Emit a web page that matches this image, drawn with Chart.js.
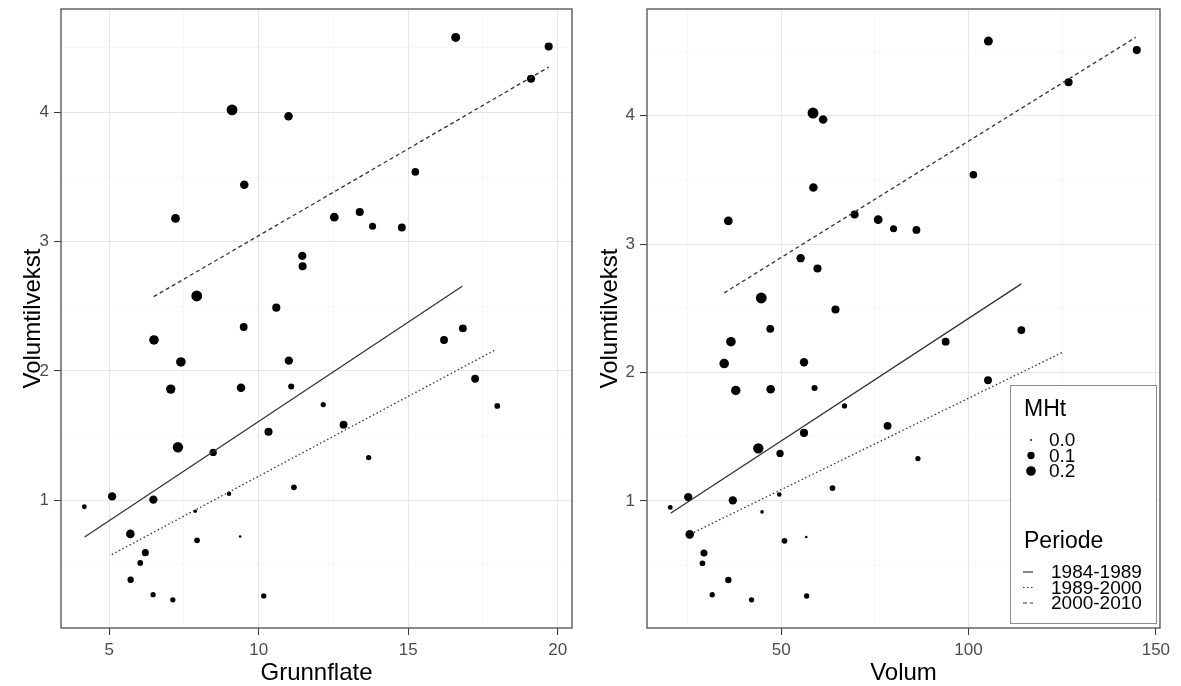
<!DOCTYPE html>
<html>
<head>
<meta charset="utf-8">
<script src="https://cdn.jsdelivr.net/npm/chart.js@4.4.1/dist/chart.umd.min.js"></script>
<style>
  html, body { margin: 0; padding: 0; background: #fff; }
  #wrap { position: relative; width: 1181px; height: 686px; }
  canvas { position: absolute; top: 0; }
</style>
</head>
<body>
<div id="wrap">
  <canvas id="left" width="595" height="686" style="left:0"></canvas>
  <canvas id="right" width="586" height="686" style="left:595px"></canvas>
</div>
<script>
// data, one entry per plot (same order in every array)
const grunnflate = [9.11, 11.0, 9.52, 7.22, 12.53, 11.46, 11.47, 7.93, 10.59, 16.59,
  19.7, 19.11, 15.24, 13.38, 13.81, 14.79, 9.5, 6.5, 7.4, 11.01,
  7.06, 9.41, 11.09, 12.16, 7.3, 8.48, 10.33, 5.1, 4.17, 6.48,
  9.01, 11.18, 7.88, 5.71, 7.94, 9.38, 6.21, 6.04, 5.72, 6.47,
  7.13, 10.17, 12.84, 13.68, 16.2, 16.83, 17.24, 17.98];
const volum = [58.5, 61.2, 58.6, 35.9, 75.9, 55.2, 59.7, 44.7, 64.5, 105.3,
  144.9, 126.7, 101.3, 69.6, 80.0, 86.1, 47.1, 36.6, 34.8, 56.1,
  37.9, 47.2, 58.9, 66.9, 43.9, 49.7, 56.1, 25.2, 20.4, 37.1,
  49.5, 63.7, 44.9, 25.6, 50.9, 56.7, 29.4, 29.0, 35.9, 31.6,
  42.1, 56.8, 78.4, 86.5, 93.9, 114.1, 105.2, 121.0];
const volumtilvekst = [4.02, 3.97, 3.44, 3.18, 3.19, 2.89, 2.81, 2.58, 2.49, 4.58,
  4.51, 4.26, 3.54, 3.23, 3.12, 3.11, 2.34, 2.24, 2.07, 2.08,
  1.86, 1.87, 1.88, 1.74, 1.41, 1.37, 1.53, 1.03, 0.95, 1.005,
  1.05, 1.10, 0.915, 0.74, 0.69, 0.72, 0.595, 0.515, 0.385, 0.27,
  0.23, 0.26, 1.585, 1.33, 2.24, 2.33, 1.94, 1.73];
const mht = [0.27, 0.15, 0.15, 0.16, 0.16, 0.14, 0.13, 0.27, 0.13, 0.17,
  0.13, 0.13, 0.11, 0.13, 0.09, 0.12, 0.12, 0.2, 0.2, 0.14,
  0.19, 0.15, 0.06, 0.04, 0.24, 0.1, 0.13, 0.14, 0.03, 0.14,
  0.025, 0.05, 0.01, 0.15, 0.05, 0.002, 0.09, 0.05, 0.07, 0.04,
  0.04, 0.04, 0.12, 0.04, 0.12, 0.12, 0.12, 0.05];

// fitted lines per period: [start, end]
const periods = ["1984-1989", "1989-2000", "2000-2010"];
const fitGrunnX = [[4.18, 16.81], [5.09, 17.89], [6.49, 19.7]];
const fitGrunnY = [[0.716, 2.655], [0.58, 2.16], [2.575, 4.35]];
const fitVolumX = [[20.5, 114.1], [26.7, 125.3], [34.8, 144.65]];
const fitVolumY = [[0.904, 2.69], [0.756, 2.16], [2.62, 4.61]];

const mhtLegend = [0.0, 0.1, 0.2];
const grunnTicks = [5, 7.5, 10, 12.5, 15, 17.5, 20];
const volumTicks = [25, 50, 75, 100, 125, 150];
const yTicks = [0.5, 1, 1.5, 2, 2.5, 3, 3.5, 4, 4.5];

const FONT = "'Liberation Sans', Arial, sans-serif";
const LINE_COLOR = "#333";
const DASHES = [[], [1.5, 2.5], [4, 3]];

function radius(m) { return 0.9 + 3.9 * Math.sqrt(Math.max(m, 0) / 0.2); }

const frame = {
  id: "frame",
  afterDatasetsDraw(chart) {
    const a = chart.chartArea, ctx = chart.ctx;
    ctx.save();
    ctx.strokeStyle = "#4d4d4d";
    ctx.lineWidth = 1.3;
    ctx.strokeRect(a.left, a.top, a.right - a.left, a.bottom - a.top);
    ctx.restore();
  }
};

const keyLegend = {
  id: "keyLegend",
  afterDraw(chart) {
    const a = chart.chartArea, ctx = chart.ctx;
    const w = 146, h = 238;
    const L = a.right - 4 - w, T = a.bottom - 5 - h;
    ctx.save();
    ctx.fillStyle = "#fff";
    ctx.fillRect(L, T, w, h);
    ctx.strokeStyle = "#8c8c8c";
    ctx.lineWidth = 1;
    ctx.strokeRect(L + 0.5, T + 0.5, w, h);
    ctx.fillStyle = "#000";
    ctx.textBaseline = "middle";
    ctx.font = "23px " + FONT;
    ctx.fillText("MHt", L + 14, T + 25);
    ctx.font = "19px " + FONT;
    mhtLegend.forEach((m, i) => {
      const y = T + 55 + i * 15.5;
      ctx.beginPath();
      ctx.arc(L + 21, y, radius(m), 0, 2 * Math.PI);
      ctx.fill();
      ctx.fillText(m.toFixed(1), L + 39, y + 1);
    });
    ctx.font = "23px " + FONT;
    ctx.fillText("Periode", L + 14, T + 157);
    ctx.font = "19px " + FONT;
    periods.forEach((p, i) => {
      const y = T + 187 + i * 15.5;
      ctx.strokeStyle = LINE_COLOR;
      ctx.lineWidth = 1.2;
      ctx.setLineDash(DASHES[i]);
      ctx.beginPath();
      ctx.moveTo(L + 13, y);
      ctx.lineTo(L + 23, y);
      ctx.stroke();
      ctx.fillText(p, L + 41, y + 1);
    });
    ctx.restore();
  }
};

function panel(id, xs, o) {
  const points = xs.map((x, i) => ({ x: x, y: volumtilvekst[i] }));
  const lines = periods.map((p, i) => ({
    type: "line",
    label: p,
    data: [{ x: o.fitX[i][0], y: o.fitY[i][0] }, { x: o.fitX[i][1], y: o.fitY[i][1] }],
    borderColor: LINE_COLOR,
    borderWidth: 1.3,
    borderDash: DASHES[i],
    pointRadius: 0,
    fill: false,
    tension: 0,
  }));
  const majorX = v => o.xMajor(v);
  const majorY = v => Number.isInteger(v);

  return new Chart(document.getElementById(id), {
    type: "scatter",
    data: {
      datasets: lines.concat([{
        label: "MHt",
        data: points,
        backgroundColor: "#000",
        borderWidth: 0,
        pointRadius: mht.map(radius),
        pointHoverRadius: mht.map(radius),
      }]),
    },
    options: {
      responsive: false, animation: false,
      layout: { padding: { left: o.padLeft, right: o.padRight, top: 9, bottom: 0 } },
      plugins: { legend: { display: false }, tooltip: { enabled: false } },
      scales: {
        x: {
          type: "linear", min: o.xMin, max: o.xMax,
          afterBuildTicks: s => { s.ticks = o.xTicks.map(v => ({ value: v })); },
          afterFit: s => { s.height = 58; s.paddingLeft = 0; s.paddingRight = 0; },
          ticks: {
            autoSkip: false, maxRotation: 0, padding: 5,
            color: "#4d4d4d", font: { family: FONT, size: 17 },
            callback: v => majorX(v) ? String(v) : "",
          },
          grid: {
            color: c => majorX(c.tick.value) ? "#e6e6e6" : "#f2f2f2",
            lineWidth: c => majorX(c.tick.value) ? 1.1 : 0.6,
            tickColor: c => majorX(c.tick.value) ? "#333" : "rgba(0,0,0,0)",
            tickLength: 7, tickWidth: 1,
          },
          border: { display: false },
          title: {
            display: true, text: o.xTitle, color: "#000",
            font: { family: FONT, size: 24, lineHeight: 1 },
            padding: { top: 0, bottom: 1 },
          },
        },
        y: {
          type: "linear", min: o.yMin, max: o.yMax,
          afterBuildTicks: s => { s.ticks = yTicks.map(v => ({ value: v })); },
          afterFit: s => { s.width = o.yWidth; s.paddingTop = 0; s.paddingBottom = 0; },
          ticks: {
            autoSkip: false, padding: 5,
            color: "#4d4d4d", font: { family: FONT, size: 17 },
            callback: v => majorY(v) ? String(v) : "",
          },
          grid: {
            color: c => majorY(c.tick.value) ? "#e6e6e6" : "#f2f2f2",
            lineWidth: c => majorY(c.tick.value) ? 1.1 : 0.6,
            tickColor: c => majorY(c.tick.value) ? "#333" : "rgba(0,0,0,0)",
            tickLength: 7, tickWidth: 1,
          },
          border: { display: false },
          title: {
            display: true, text: "Volumtilvekst", color: "#000",
            font: { family: FONT, size: 24, lineHeight: 1 },
            padding: { top: o.yTitleTop, bottom: 0 },
          },
        },
      },
    },
    plugins: [frame].concat(o.extra || []),
  });
}

panel("left", grunnflate, {
  fitX: fitGrunnX, fitY: fitGrunnY,
  xMin: 3.39, xMax: 20.48, xTicks: grunnTicks, xMajor: v => v % 5 === 0,
  xTitle: "Grunnflate", yMin: 0.012, yMax: 4.80,
  padLeft: 17, padRight: 23, yWidth: 44, yTitleTop: 4,
});

panel("right", volum, {
  fitX: fitVolumX, fitY: fitVolumY,
  xMin: 14.2, xMax: 151.1, xTicks: volumTicks, xMajor: v => v % 50 === 0,
  xTitle: "Volum", yMin: 0.011, yMax: 4.83,
  padLeft: 0, padRight: 21, yWidth: 52, yTitleTop: 3,
  extra: [keyLegend],
});
</script>
</body>
</html>
